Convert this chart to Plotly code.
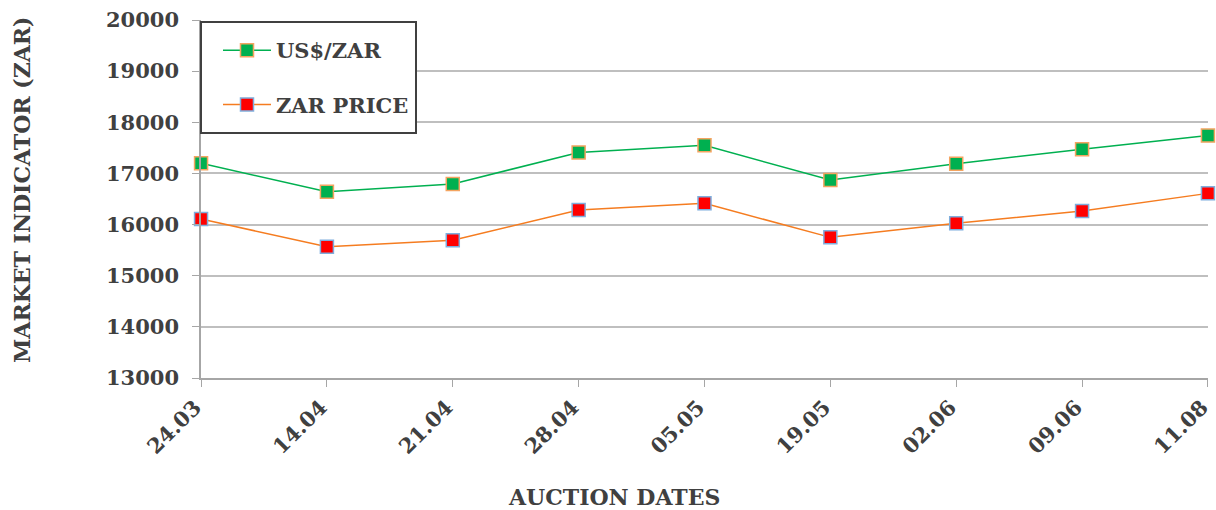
import plotly.graph_objects as go

dates = ["24.03", "14.04", "21.04", "28.04", "05.05", "19.05", "02.06", "09.06", "11.08"]
usd_zar = [17200, 16640, 16795, 17410, 17550, 16870, 17190, 17475, 17740]
zar_price = [16110, 15565, 15695, 16285, 16415, 15750, 16025, 16265, 16610]
y_ticks = [13000, 14000, 15000, 16000, 17000, 18000, 19000, 20000]

FONT = "DejaVu Serif"
TXT = "#404040"

# plot area in pixels
L, R, T, B = 201, 8, 20, 132
W, H = 1216, 510
PW, PH = W - L - R, H - T - B


def px_x(p):
    return (p - L) / PW


def px_y(p):
    return 1 - (p - T) / PH


fig = go.Figure()
fig.add_trace(go.Scatter(
    x=list(range(len(dates))), y=usd_zar, name="US$/ZAR", mode="lines+markers",
    line=dict(color="#00B050", width=1.5),
    marker=dict(symbol="square", size=13, color="#00B050", line=dict(color="#F4A460", width=1.5)),
    cliponaxis=False, legendgroup="a",
))
fig.add_trace(go.Scatter(
    x=list(range(len(dates))), y=zar_price, name="ZAR PRICE", mode="lines+markers",
    line=dict(color="#F57C20", width=1.5),
    marker=dict(symbol="square", size=13, color="#FF0000", line=dict(color="#7FAEDD", width=1.5)),
    cliponaxis=False, legendgroup="b",
))

# legend frame
fig.add_shape(type="rect", xref="paper", yref="paper",
              x0=px_x(201), x1=px_x(416), y0=px_y(133), y1=px_y(22),
              fillcolor="white", line=dict(color="#404040", width=2), layer="above")

fig.add_annotation(text="AUCTION DATES", xref="paper", yref="paper",
                   x=px_x(614), y=px_y(497), xanchor="center", yanchor="middle",
                   showarrow=False, font=dict(family=FONT, size=22, color=TXT, weight="bold"))
fig.add_annotation(text="MARKET INDICATOR (ZAR)", xref="paper", yref="paper",
                   x=px_x(22), y=px_y(190), xanchor="center", yanchor="middle",
                   textangle=-90, showarrow=False,
                   font=dict(family=FONT, size=22, color=TXT, weight="bold"))

fig.update_layout(
    width=W, height=H,
    margin=dict(l=L, r=R, t=T, b=B, autoexpand=False),
    paper_bgcolor="white", plot_bgcolor="white",
    font=dict(family=FONT, color=TXT, size=20),
    showlegend=True,
    legend=dict(
        x=px_x(218), y=px_y(30), xanchor="left", yanchor="top",
        bgcolor="rgba(0,0,0,0)", borderwidth=0,
        font=dict(family=FONT, size=21, color=TXT, weight="bold"),
        tracegroupgap=24, itemwidth=48,
    ),
    xaxis=dict(
        tickmode="array", tickvals=list(range(len(dates))), ticktext=dates,
        range=[-0.0005, len(dates) - 1 + 0.0005], tickangle=-45,
        ticklabeloverflow="allow", ticklabelshift=-6,
        showgrid=False, showline=True, linecolor="#A6A6A6", linewidth=1.5,
        ticks="outside", ticklen=7, tickcolor="#A6A6A6",
        tickfont=dict(family=FONT, size=21, color=TXT, weight="bold"),
        zeroline=False, automargin=False,
    ),
    yaxis=dict(
        range=[13000, 20000], tickmode="array", tickvals=y_ticks,
        ticktext=[str(v) for v in y_ticks],
        showgrid=True, gridcolor="#BFBFBF", gridwidth=1.5,
        showline=True, linecolor="#A6A6A6", linewidth=1.5,
        ticks="outside", ticklen=7, tickcolor="#A6A6A6", ticklabelstandoff=9,
        tickfont=dict(family=FONT, size=21, color=TXT, weight="bold"),
        zeroline=False, automargin=False,
    ),
)

fig.write_html(
    "out.html",
    config={"displayModeBar": False},
    post_script="document.body.style.margin='0';document.body.style.overflow='hidden';",
)
